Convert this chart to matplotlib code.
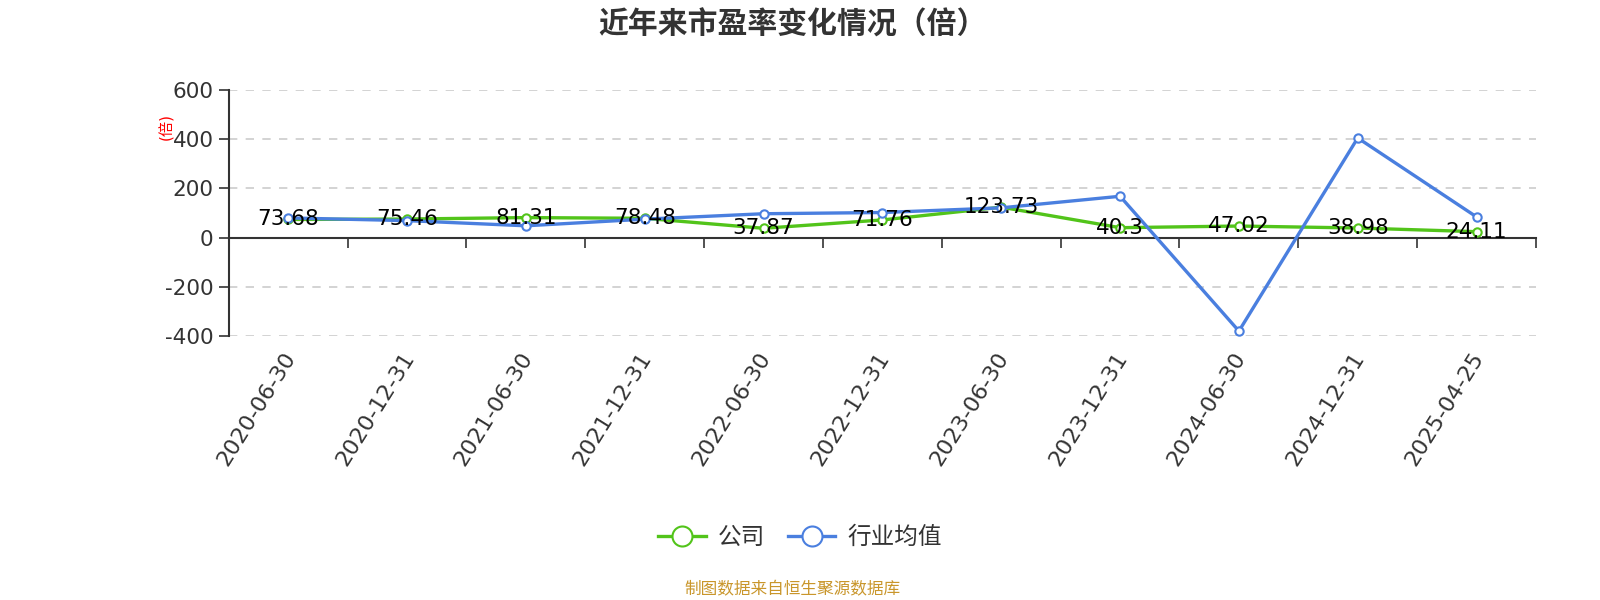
import numpy as np
import matplotlib
matplotlib.use('Agg')
import matplotlib.pyplot as plt
from matplotlib.transforms import ScaledTranslation

plt.rcParams['font.family'] = ['DejaVu Sans', 'Noto Sans CJK SC']

# data
dates = ['2020-06-30', '2020-12-31', '2021-06-30', '2021-12-31', '2022-06-30',
         '2022-12-31', '2023-06-30', '2023-12-31', '2024-06-30', '2024-12-31',
         '2025-04-25']
company = [73.68, 75.46, 81.31, 78.48, 37.87, 71.76, 123.73, 40.3, 47.02, 38.98, 24.11]
industry = [80, 69, 48, 75, 97, 102, 121, 168, -380, 405, 84]
yticks = [-400, -200, 0, 200, 400, 600]

green = '#52c41a'
blue = '#4a7fdf'
text_col = '#333333'

fig = plt.figure(figsize=(16, 6), dpi=100)
ax = fig.add_axes([0.143, 0.44, 0.817, 0.41])

x = np.arange(len(dates))
ax.plot(x, company, color=green, lw=2.4, marker='o', ms=6, mfc='white',
        mec=green, mew=1.5, label='公司', zorder=3)
ax.plot(x, industry, color=blue, lw=2.4, marker='o', ms=6, mfc='white',
        mec=blue, mew=1.5, label='行业均值', zorder=3)

for xi, v in zip(x, company):
    ax.text(xi, v, f'{v:g}', ha='center', va='center', fontsize=15.5,
            color='black', zorder=4)

ax.set_xlim(-0.5, len(dates) - 0.5)
ax.set_ylim(-400, 600)
ax.set_yticks(yticks)
ax.set_yticklabels([str(t) for t in yticks], fontsize=15.5, color=text_col)
ax.tick_params(axis='y', length=7, width=1.2, color=text_col, pad=4)
ax.grid(axis='y', color='#cccccc', linestyle=(0, (5, 5)), lw=1.2)
ax.set_axisbelow(True)

for s in ['top', 'right']:
    ax.spines[s].set_visible(False)
ax.spines['left'].set_color(text_col)
ax.spines['left'].set_linewidth(1.5)
ax.spines['bottom'].set_position(('data', 0))
ax.spines['bottom'].set_color(text_col)
ax.spines['bottom'].set_linewidth(1.5)

# ticks on axis at category boundaries
ax.set_xticks(np.arange(0.5, len(dates), 1.0))
ax.set_xticklabels([])
ax.tick_params(axis='x', length=7, width=1.2, color=text_col, direction='out')

# date labels under the plot area
sec = ax.secondary_xaxis('bottom')
sec.set_xticks(x)
sec.set_xticklabels(dates, rotation=58, ha='right', rotation_mode='anchor',
                    fontsize=16, color=text_col)
sec.tick_params(length=0, pad=9)
sec.spines['bottom'].set_visible(False)
shift = ScaledTranslation(-0.06, 0, fig.dpi_scale_trans)
for lbl in sec.get_xticklabels():
    lbl.set_transform(lbl.get_transform() + shift)

fig.text(0.104, 0.79, '(倍)', rotation=90, color='red', fontsize=11,
         ha='center', va='center')

fig.text(0.495, 0.958, '近年来市盈率变化情况（倍）', ha='center', va='center',
         fontsize=21.5, fontweight='bold', color=text_col)

fig.legend(loc='center', bbox_to_anchor=(0.5, 0.105), ncol=2, frameon=False,
           fontsize=17, labelcolor=text_col, handlelength=2.0,
           columnspacing=1.0, handletextpad=0.5, markerscale=2.4)

fig.text(0.495, 0.018, '制图数据来自恒生聚源数据库', ha='center', va='center',
         fontsize=12, color='#c9962b')

fig.savefig('out.png', dpi=100)
